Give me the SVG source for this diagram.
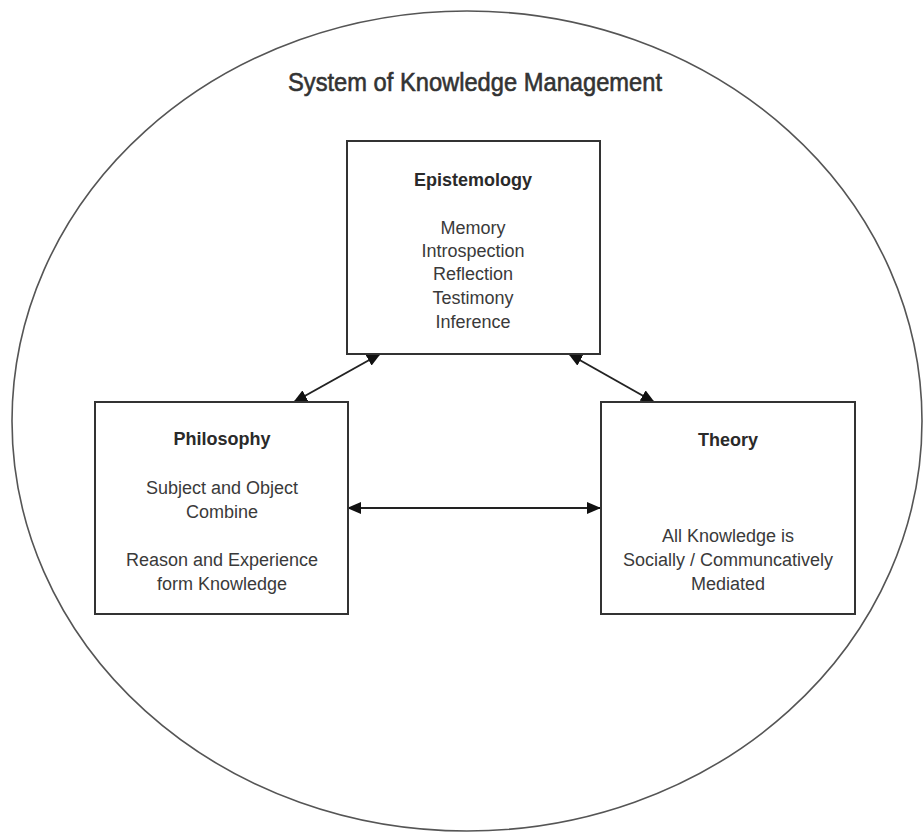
<svg xmlns="http://www.w3.org/2000/svg" width="924" height="833" viewBox="0 0 924 833">
<style>
.box{fill:#fff;stroke:#333;stroke-width:2}
.t{font-family:"Liberation Sans",Arial,sans-serif;font-size:18px;fill:#3a3a3a;text-anchor:middle}
.b{font-weight:bold;fill:#2a2a2a}
.c{stroke:#222;stroke-width:2;fill:none;marker-start:url(#ah);marker-end:url(#ah)}
</style>
<defs>
<marker id="ah" markerUnits="userSpaceOnUse" markerWidth="14" markerHeight="12" refX="13" refY="6" orient="auto-start-reverse">
<path d="M0,0 L14,6 L0,12 Z" fill="#111"/>
</marker>
</defs>
<rect width="924" height="833" fill="#fff"/>
<g id="system">
<ellipse cx="467" cy="421" rx="455" ry="410" fill="none" stroke="#555" stroke-width="1.6"/>
<text x="475" y="91" font-family="'Liberation Sans',Arial,sans-serif" font-size="26" fill="#333" text-anchor="middle" textLength="374" lengthAdjust="spacingAndGlyphs" stroke="#333" stroke-width="0.6">System of Knowledge Management</text>
</g>
<g id="connectors">
<line class="c" x1="380" y1="354" x2="294" y2="402"/>
<line class="c" x1="569" y1="354" x2="654" y2="402"/>
<line class="c" x1="348" y1="508" x2="600" y2="508"/>
</g>
<g id="epistemology">
<rect class="box" x="347" y="141" width="253" height="213"/>
<text class="t b" x="473" y="186">Epistemology</text>
<text class="t" x="473" y="234">Memory</text>
<text class="t" x="473" y="257">Introspection</text>
<text class="t" x="473" y="280">Reflection</text>
<text class="t" x="473" y="304">Testimony</text>
<text class="t" x="473" y="328">Inference</text>
</g>
<g id="philosophy">
<rect class="box" x="95" y="402" width="253" height="212"/>
<text class="t b" x="222" y="445">Philosophy</text>
<text class="t" x="222" y="494">Subject and Object</text>
<text class="t" x="222" y="518">Combine</text>
<text class="t" x="222" y="566">Reason and Experience</text>
<text class="t" x="222" y="590">form Knowledge</text>
</g>
<g id="theory">
<rect class="box" x="601" y="402" width="254" height="212"/>
<text class="t b" x="728" y="446">Theory</text>
<text class="t" x="728" y="542">All Knowledge is</text>
<text class="t" x="728" y="566">Socially / Communcatively</text>
<text class="t" x="728" y="590">Mediated</text>
</g>
</svg>
